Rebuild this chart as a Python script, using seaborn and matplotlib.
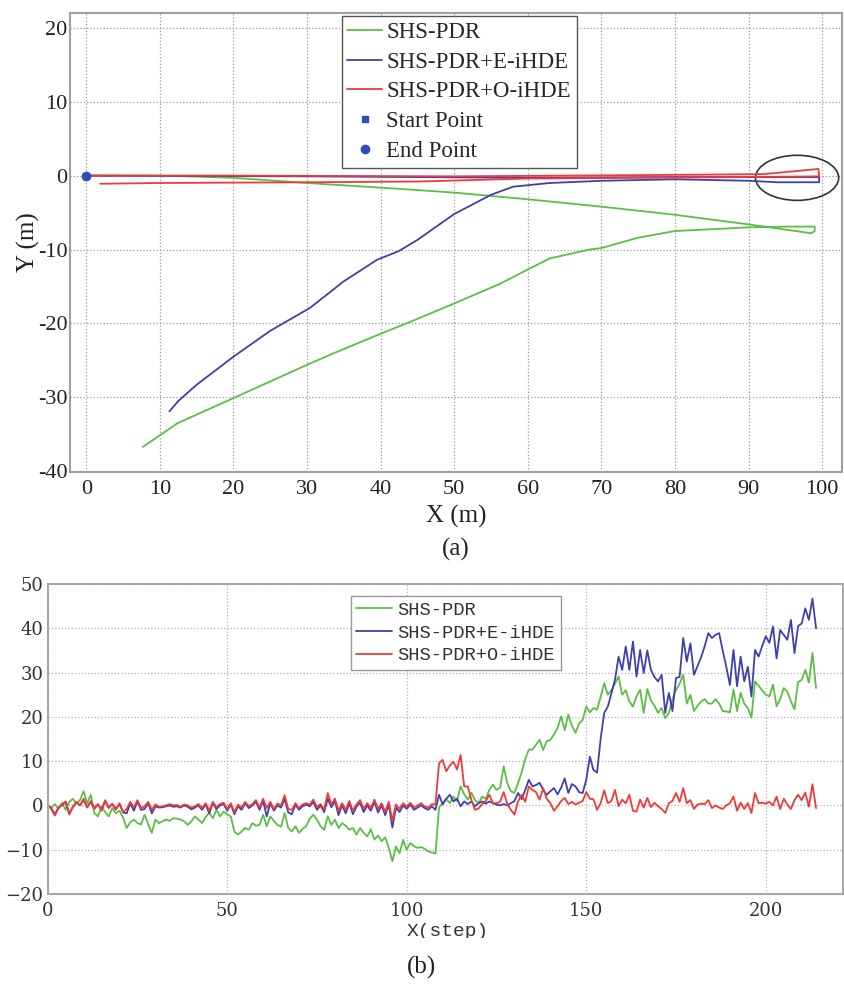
import numpy as np
import pandas as pd
import matplotlib
matplotlib.use('Agg')
import matplotlib.pyplot as plt
import seaborn as sns
from matplotlib.patches import Ellipse
from matplotlib.ticker import FuncFormatter, MultipleLocator
from matplotlib.transforms import Bbox

# (a) trajectories, X/Y in metres
pdr_x = [0, 10, 20, 30, 42.7, 50, 60, 70, 80, 90, 95, 98.5, 99, 99, 95, 90, 80, 75, 70,
         68.4, 63, 60, 56.3, 50, 44, 39.5, 33.7, 30, 20, 12.4, 7.7]
pdr_y = [0, 0, -0.3, -1.0, -1.8, -2.3, -3.2, -4.2, -5.3, -6.6, -7.3, -7.8, -7.5, -6.9, -6.9,
         -7.0, -7.5, -8.4, -9.8, -10.0, -11.2, -12.7, -14.6, -17.3, -19.8, -21.6, -24.0,
         -25.6, -30.1, -33.5, -36.7]
e_x = [0, 30, 60, 80, 99.6, 99.6, 94, 90, 80, 70, 63, 58, 55, 50, 45, 42.5, 39.5, 35,
       30.4, 25, 20, 15, 12.5, 11.3]
e_y = [0, -0.1, -0.3, -0.2, -0.2, -0.9, -0.9, -0.7, -0.5, -0.7, -1.0, -1.5, -2.6, -5.2,
       -8.7, -10.2, -11.4, -14.3, -17.9, -21.0, -24.5, -28.3, -30.5, -31.9]
o_x = [0, 20, 50, 80, 92, 99.5, 99.6, 90, 60, 45, 30, 10, 1.9]
o_y = [0, 0, -0.1, 0.1, 0.2, 0.9, -0.1, -0.2, -0.4, -0.8, -0.9, -1.0, -1.1]
circle_center = (96.6, -0.3)
circle_size = (11.3, 6.1)

# (b) heading error per step
pdr_err = [
    0.0, -0.5, 0.3, -0.8, 0.6, -1.0, 0.8, 1.5, 0.4, 1.2,
    3.2, 0.5, 2.4, -1.7, -2.5, -0.2, -1.5, -2.5, -0.6, -1.8,
    -1.2, -2.8, -5.1, -3.8, -3.2, -4.0, -4.3, -2.1, -4.3, -6.2,
    -3.2, -4.0, -3.6, -3.2, -3.5, -2.9, -3.0, -3.2, -3.6, -4.4,
    -3.6, -2.5, -3.2, -4.0, -2.6, -1.7, -2.9, -1.0, -2.5, -1.4,
    -2.0, -2.5, -5.9, -6.6, -5.9, -5.1, -5.5, -4.0, -4.6, -4.4,
    -2.1, -4.7, -2.5, -3.5, -4.4, -4.8, -1.7, -5.1, -5.9, -4.7,
    -6.2, -5.3, -4.7, -3.0, -2.1, -3.2, -4.7, -5.5, -2.5, -4.4,
    -3.2, -5.1, -4.0, -4.6, -5.5, -5.1, -6.6, -5.1, -6.2, -7.0,
    -5.4, -7.7, -6.8, -8.1, -7.2, -9.6, -12.6, -9.3, -10.8, -7.8,
    -10.0, -8.5, -9.2, -9.6, -9.4, -9.8, -10.4, -10.6, -10.9, -0.5,
    0.5, 1.5, 0.5, 2.0, 1.0, 4.3, 2.5, 1.3, 2.9, 1.2,
    0.5, 2.0, 1.5, 3.5, 4.7, 3.5, 4.0, 8.8, 5.0, 3.2,
    2.8, 5.0, 7.5, 10.5, 12.6, 12.6, 13.7, 14.8, 12.5, 14.5,
    14.8, 16.0, 17.5, 20.1, 17.0, 20.5, 18.0, 16.4, 18.5, 19.3,
    22.3, 21.0, 22.0, 21.6, 24.5, 27.6, 25.0, 26.0, 27.5, 29.1,
    25.0, 26.0, 23.5, 22.3, 24.6, 26.1, 20.9, 26.3, 23.7, 22.5,
    20.9, 22.0, 19.7, 20.9, 24.0, 26.1, 27.5, 29.5, 23.0, 25.0,
    21.3, 22.5, 23.5, 24.0, 23.0, 23.0, 24.0, 23.0, 21.3, 21.2,
    21.0, 26.2, 21.3, 25.4, 23.0, 22.0, 19.8, 28.0, 27.0, 26.0,
    25.0, 24.6, 27.3, 22.4, 24.0, 26.5, 25.7, 23.5, 21.7, 27.9,
    28.3, 30.6, 27.7, 34.4, 26.5]
e_err = [
    0.0, -0.6, -2.0, -0.5, 0.0, 0.8, -1.8, -0.3, 0.7, 0.0,
    1.2, -0.4, 0.8, -0.6, 0.2, -1.0, 1.0, -0.5, 0.3, -0.8,
    0.3, -1.6, -1.8, 0.5, -1.2, 0.9, -1.0, -0.8, 0.5, -1.8,
    -0.2, -0.5, -0.4, -0.2, 0.0, -0.3, -0.2, -0.5, 0.0, -0.3,
    -0.9, -0.5, 0.0, -1.0, 0.2, -1.8, 0.5, -0.8, 0.0, 0.3,
    -1.2, 0.2, -2.0, -0.2, -1.0, 0.5, -0.6, 0.0, 0.8, -1.0,
    1.0, -2.5, 0.5, -1.2, 0.0, -0.5, 1.5, -1.6, -2.0, 0.2,
    -1.0, -0.2, 0.2, -0.2, 0.8, -1.0, 0.0, -1.5, 1.5, -0.4,
    1.0, -2.2, 0.0, -1.8, 0.5, -2.0, -0.3, 0.6, -1.5, 0.0,
    -1.2, 0.8, -1.6, 0.0, -2.2, 0.2, -5.0, -0.5, -1.5, 0.0,
    -0.8, 0.2, -1.0, -0.5, 0.0, -0.6, -1.0, -0.2, -1.0, 2.4,
    0.2, 1.5, 2.4, 0.9, 1.5, -0.2, 0.9, 0.3, 0.9, -0.2,
    0.5, 0.9, 0.4, 0.9, 0.5, 0.2, 0.0, 0.3, 0.0, 0.5,
    1.0, 2.8, 1.4, 3.5, 5.8, 4.3, 4.6, 5.1, 3.5, 2.4,
    3.2, 3.9, 2.5, 4.0, 6.1, 2.8, 4.8, 4.3, 3.0, 2.8,
    5.8, 11.0, 8.0, 7.4, 15.0, 20.9, 22.3, 25.3, 28.4, 33.6,
    30.6, 35.9, 30.6, 37.0, 29.1, 35.1, 29.9, 35.0, 30.6, 29.0,
    28.0, 29.5, 20.9, 25.4, 21.3, 28.8, 29.0, 37.8, 32.5, 36.6,
    29.5, 31.5, 33.5, 36.0, 38.9, 37.8, 38.5, 38.9, 35.0, 31.3,
    27.2, 35.1, 26.9, 33.6, 28.0, 31.3, 24.6, 35.1, 33.6, 36.0,
    38.2, 36.7, 40.4, 33.2, 39.6, 38.5, 37.4, 41.9, 34.4, 40.5,
    41.1, 44.5, 41.9, 46.7, 40.0]
o_err = [
    0.0, -0.8, -2.3, -0.6, 0.2, 0.9, -2.1, -0.4, 0.8, 0.0,
    1.5, -0.5, 1.0, -0.8, 0.3, -1.2, 1.2, -0.6, 0.4, -1.0,
    0.5, -1.5, -0.8, 0.8, -0.5, 1.2, -0.6, -0.2, 0.8, -1.0,
    0.2, -0.3, -0.2, 0.0, 0.3, 0.0, 0.1, -0.3, 0.2, 0.0,
    -0.5, -0.2, 0.3, -0.6, 0.5, -1.2, 0.8, -0.4, 0.3, 0.6,
    -0.8, 0.5, -1.5, 0.2, -0.5, 0.8, -0.2, 0.3, 1.2, -0.5,
    1.5, -0.6, 0.8, -0.8, 0.4, 0.0, 2.3, -0.8, -1.0, 0.5,
    -0.6, 0.2, 0.5, 0.2, 1.3, -0.4, 0.3, -1.0, 2.8, 0.2,
    1.5, -1.2, 0.5, -1.0, 1.0, -1.2, 0.2, 1.2, -0.8, 0.5,
    -0.6, 1.3, -0.8, 0.5, -1.5, 0.8, -3.5, 0.2, -0.8, 0.5,
    -0.3, 0.6, -0.5, 0.0, 0.5, -0.2, -0.5, 0.3, 0.2, 9.5,
    10.3, 7.7, 9.0, 9.9, 8.1, 11.4, 4.3, 4.3, 1.3, -1.0,
    -0.7, 0.3, 1.0, 2.4, 0.5, 0.5, 0.8, 3.0, 0.3, -1.0,
    -2.1, 0.9, 2.4, 0.8, 4.3, 3.5, 3.0, 1.3, 3.9, 1.5,
    0.5, -1.2, -0.2, 1.0, 1.7, 0.3, 0.8, 0.2, 0.6, 1.0,
    3.0, 1.5, 1.4, -1.0, 0.5, 3.4, 0.5, 1.0, 3.5, -0.2,
    1.3, 0.5, 2.4, -1.2, -1.4, 1.3, -0.5, 1.7, -0.4, 0.6,
    -0.2, -0.8, -1.7, 0.5, 1.0, 2.8, 0.8, 3.9, 0.5, 1.2,
    -0.8, 0.2, 0.4, 0.3, 1.2, -0.6, 0.0, -0.5, -0.8, 0.0,
    0.5, 2.0, -1.2, 0.6, -0.8, 0.5, -1.7, 2.8, 0.5, 0.6,
    0.4, 0.8, 0.0, 2.0, -0.8, 1.5, 0.2, -0.8, 1.2, 2.4,
    1.2, 2.9, -0.3, 4.8, -0.6]

steps = np.arange(len(pdr_err))
df_b = pd.DataFrame({'step': steps, 'SHS-PDR': pdr_err,
                     'SHS-PDR+E-iHDE': e_err, 'SHS-PDR+O-iHDE': o_err})

sns.set_theme(style='white')
plt.rcParams['font.family'] = ['Liberation Serif', 'DejaVu Serif']

GREEN, BLUE, RED = '#5cbf45', '#3f3fb0', '#f03a3a'
hyphen = FuncFormatter(lambda v, p: f'{v:g}'.replace('\u2212', '-'))
uminus = FuncFormatter(lambda v, p: f'{v:g}'.replace('-', '\u2212'))

fig = plt.figure(figsize=(8.44, 9.84), dpi=100)

# ---- (a) ----
ax1 = fig.add_axes([0.083, 0.5203, 0.9146, 0.4665])
sns.lineplot(x=pdr_x, y=pdr_y, sort=False, estimator=None, color=GREEN, lw=1.3,
             ax=ax1, label='SHS-PDR')
sns.lineplot(x=e_x, y=e_y, sort=False, estimator=None, color=BLUE, lw=1.3,
             ax=ax1, label='SHS-PDR+E-iHDE')
sns.lineplot(x=o_x, y=o_y, sort=False, estimator=None, color=RED, lw=1.3,
             ax=ax1, label='SHS-PDR+O-iHDE')
ax1.plot([pdr_x[0]], [pdr_y[0]], 's', color='#2f4fb8', ms=4, ls='none', label='Start Point')
ax1.plot([o_x[0]], [o_y[0]], 'o', color='#2f4fb8', ms=6, ls='none', label='End Point')
ax1.add_patch(Ellipse(circle_center, circle_size[0], circle_size[1], fill=False,
                      edgecolor='#333333', lw=1.2))
ax1.set_xlim(-2.2, 102.7)
ax1.set_ylim(-40.1, 22)
ax1.xaxis.set_major_locator(MultipleLocator(10))
ax1.yaxis.set_major_locator(MultipleLocator(10))
ax1.xaxis.set_major_formatter(hyphen)
ax1.yaxis.set_major_formatter(hyphen)
ax1.grid(True, ls=':', color='#9a9a9a', lw=0.9)
ax1.tick_params(axis='both', labelsize=16, direction='in', length=4, colors='#222222')
ax1.tick_params(axis='x', pad=6)
ax1.tick_params(axis='y', pad=2)
for s in ax1.spines.values():
    s.set_color('#a0a0a0')
    s.set_linewidth(1.5)
ax1.set_xlabel('X (m)', fontsize=18, labelpad=4, color='#222222')
ax1.set_ylabel('Y (m)', fontsize=18, labelpad=-2, color='#222222')
leg1 = ax1.legend(loc='upper left', bbox_to_anchor=(0.352, 0.993), fontsize=16.5,
                  frameon=True, fancybox=False, edgecolor='#555555', framealpha=1,
                  handlelength=1.5, handletextpad=0.2, labelspacing=0.38,
                  borderpad=0.25, borderaxespad=0)
leg1.get_frame().set_linewidth(1.0)
fig.text(0.54, 1 - 549 / 984, '(a)', ha='center', va='center', fontsize=18, color='#222222')

# ---- (b) ----
ax2 = fig.add_axes([0.0565, 0.0915, 0.9423, 0.315])
for col, c in [('SHS-PDR', GREEN), ('SHS-PDR+E-iHDE', BLUE), ('SHS-PDR+O-iHDE', RED)]:
    sns.lineplot(data=df_b, x='step', y=col, color=c, lw=1.3, ax=ax2, label=col)
ax2.set_xlim(0, 221.5)
ax2.set_ylim(-20, 50)
ax2.xaxis.set_major_locator(MultipleLocator(50))
ax2.yaxis.set_major_locator(MultipleLocator(10))
ax2.yaxis.set_major_formatter(uminus)
ax2.grid(True, ls=':', color='#b0b0b0', lw=0.9)
ax2.tick_params(axis='both', labelsize=13, length=0, colors='#333333')
ax2.tick_params(axis='x', pad=6)
ax2.tick_params(axis='y', pad=3)
for lab in ax2.get_xticklabels() + ax2.get_yticklabels():
    lab.set_family(['DejaVu Serif'])
for s in ax2.spines.values():
    s.set_color('#a8a8a8')
    s.set_linewidth(1.5)
ax2.set_xlabel('')
ax2.set_ylabel('')
leg2 = ax2.legend(loc='upper left', bbox_to_anchor=(0.381, 0.961),
                  prop={'family': 'Liberation Mono', 'size': 13.5},
                  frameon=True, fancybox=False, edgecolor='#999999', framealpha=1,
                  handlelength=1.9, handletextpad=0.3, labelspacing=0.3,
                  borderpad=0.3, borderaxespad=0)
for t in leg2.get_texts():
    t.set_color('#333333')

# x label of (b) is cut off at the bottom in the original figure
xl = fig.text(0.53, 1 - 936 / 984, 'X(step)', ha='center', va='baseline', fontsize=14,
              family=['Liberation Mono'], color='#333333')
xl.set_clip_box(Bbox.from_extents(0, 984 - 937.5, 844, 984))
xl.set_clip_on(True)
fig.text(0.5, 1 - 967 / 984, '(b)', ha='center', va='center', fontsize=18, color='#222222')

fig.savefig('out.png', dpi=100)
